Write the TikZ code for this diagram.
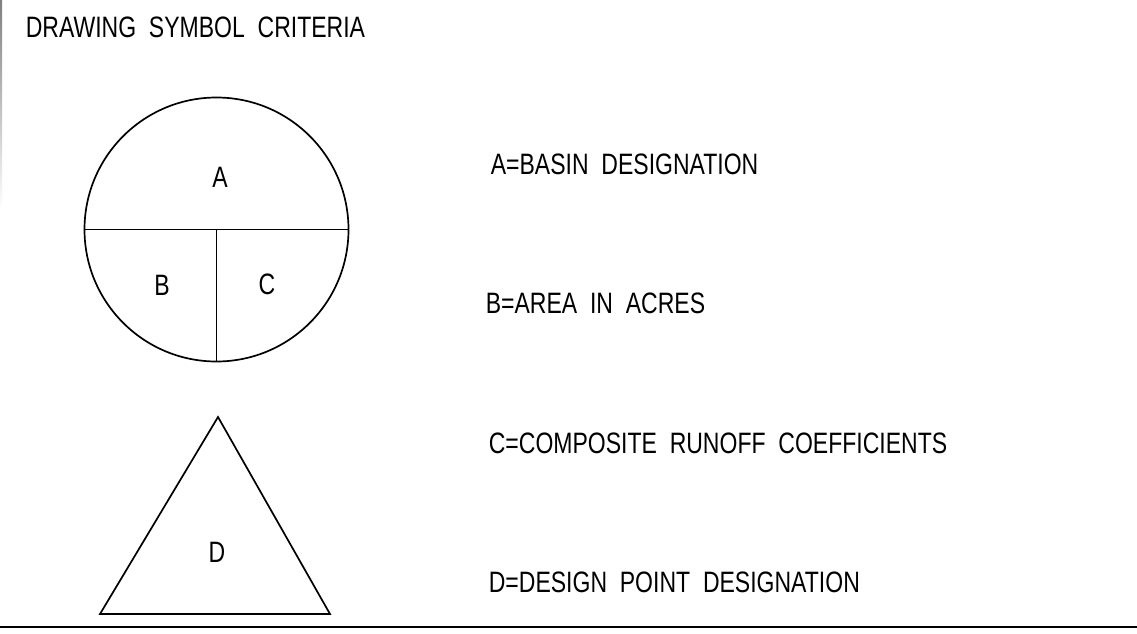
\documentclass[tikz,border=0pt]{standalone}
\usepackage{fontspec}
\setmainfont{Liberation Sans}[FakeStretch=0.78]
\begin{document}
\begin{tikzpicture}[x=1pt,y=-1pt,line width=1.7pt,
  lbl/.style={inner sep=0pt,font=\fontsize{29.5}{30}\selectfont},
  desc/.style={lbl,anchor=west}]
\useasboundingbox (0,0) rectangle (1137,634);
\shade[top color=gray,bottom color=white,draw=none] (0,0) rectangle (2,210);
\node[desc] (title) at (25,27) {DRAWING\ \ SYMBOL\ \ CRITERIA};
\node[circle,draw,minimum size=264pt,inner sep=0pt] (circ) at (216.5,229.5) {};
\draw (circ.west) -- (circ.east);
\draw (circ.center) -- (circ.south);
\node[lbl] (la) at (220,177) {A};
\node[lbl] (lb) at (162,285) {B};
\node[lbl] (lc) at (267,284) {C};
\coordinate (t1) at (218,417);
\coordinate (t2) at (100,614);
\coordinate (t3) at (330,614);
\draw[line join=miter] (t1) -- (t2) -- (t3) -- cycle;
\node[lbl] (ld) at (217,552) {D};
\node[desc] (da) at (490,164) {A=BASIN\ \ DESIGNATION};
\node[desc] (db) at (485,303.5) {B=AREA\ \ IN\ \ ACRES};
\node[desc] (dc) at (488,443) {C=COMPOSITE\ \ RUNOFF\ \ COEFFICIENTS};
\node[desc] (dd) at (488,582) {D=DESIGN\ \ POINT\ \ DESIGNATION};
\coordinate (bl) at (0,627);
\coordinate (br) at (1137,627);
\draw (bl) -- (br);
\end{tikzpicture}
\end{document}
